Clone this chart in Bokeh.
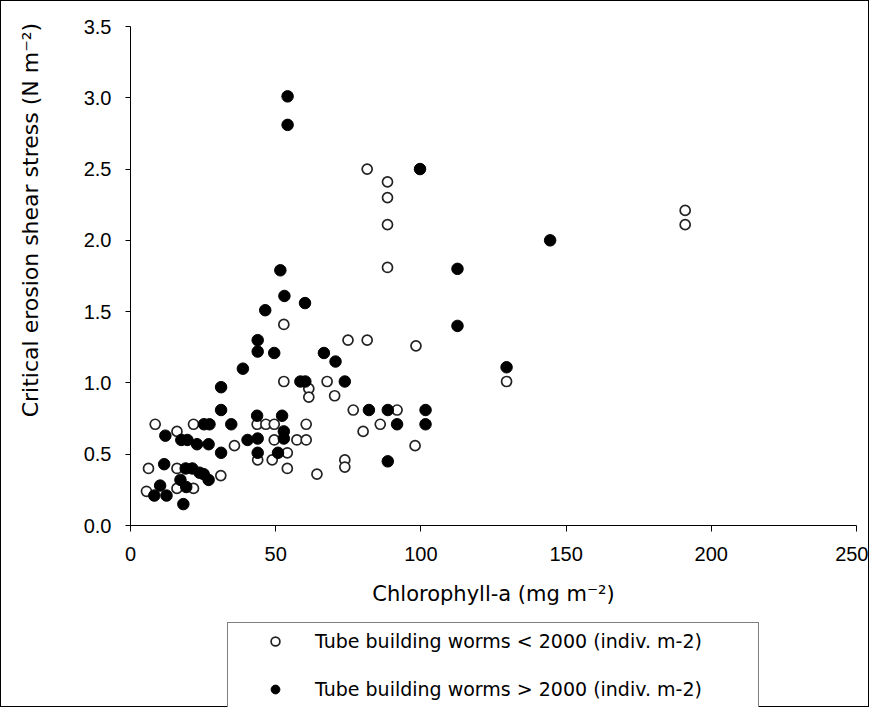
from bokeh.plotting import figure
from bokeh.layouts import column
from bokeh.models import Range1d, FixedTicker, Legend, LegendItem
from bokeh.embed import file_html
from bokeh.resources import INLINE

# Chlorophyll-a (mg m-2) vs critical erosion shear stress (N m-2)
low_x = [5.5, 6.2, 8.5, 16.0, 16.0, 16.0, 21.7, 21.7, 31.1, 35.8,
         43.6, 43.8, 46.6, 49.5, 49.5, 48.8, 52.8, 52.8, 54.0, 54.0,
         57.3, 60.5, 61.4, 61.4, 60.5, 64.2, 67.7, 70.3, 73.8, 73.8,
         74.9, 76.7, 80.1, 81.5, 81.5, 86.0, 88.5, 88.5, 88.5, 88.5,
         91.8, 98.0, 98.3, 129.5, 191.0, 191.0]
low_y = [0.24, 0.40, 0.71, 0.66, 0.40, 0.26, 0.71, 0.26, 0.35, 0.56,
         0.71, 0.46, 0.71, 0.71, 0.60, 0.46, 1.41, 1.01, 0.51, 0.40,
         0.60, 0.71, 0.96, 0.90, 0.60, 0.36, 1.01, 0.91, 0.46, 0.41,
         1.30, 0.81, 0.66, 1.30, 2.50, 0.71, 2.41, 2.30, 2.11, 1.81,
         0.81, 0.56, 1.26, 1.01, 2.21, 2.11]

high_x = [8.2, 10.2, 11.6, 12.0, 12.4, 17.2, 19.2, 18.2, 17.5, 19.6,
          19.0, 21.3, 23.8, 25.2, 26.9, 22.9, 26.9, 25.3, 27.2, 31.2,
          31.2, 31.2, 34.7, 38.7, 40.3, 43.8, 43.8, 43.6, 43.8, 43.8,
          46.4, 49.5, 50.8, 51.6, 52.2, 52.8, 52.8, 53.0, 54.1, 54.1,
          58.5, 60.2, 60.1, 66.6, 70.6, 73.8, 82.1, 88.6, 88.6, 91.8,
          99.7, 101.6, 101.6, 112.6, 112.6, 129.5, 144.5]
high_y = [0.21, 0.28, 0.43, 0.63, 0.21, 0.32, 0.27, 0.15, 0.60, 0.60,
          0.40, 0.40, 0.37, 0.36, 0.32, 0.57, 0.57, 0.71, 0.71, 0.97,
          0.81, 0.51, 0.71, 1.10, 0.60, 1.30, 1.22, 0.77, 0.61, 0.51,
          1.51, 1.21, 0.51, 1.79, 0.77, 0.66, 0.61, 1.61, 3.01, 2.81,
          1.01, 1.01, 1.56, 1.21, 1.15, 1.01, 0.81, 0.81, 0.45, 0.71,
          2.50, 0.81, 0.71, 1.80, 1.40, 1.11, 2.00]

x_ticks = [0, 50, 100, 150, 200, 250]
y_ticks = [0.0, 0.5, 1.0, 1.5, 2.0, 2.5, 3.0, 3.5]
y_tick_labels = ["0.0", "0.5", "1.0", "1.5", "2.0", "2.5", "3.0", "3.5"]

x_title = "Chlorophyll-a (mg m⁻²)"
y_title = "Critical erosion shear stress (N m⁻²)"
label_low = "Tube building worms < 2000 (indiv. m-2)"
label_high = "Tube building worms > 2000 (indiv. m-2)"

TICK_FONT = "Liberation Sans"
TITLE_FONT = "DejaVu Sans"

OPEN_STYLE = dict(marker="circle", fill_color="white", line_color="#222222", line_width=1.7)
FILLED_STYLE = dict(marker="circle", fill_color="black", line_color="black", line_width=1)

# ---- main scatter chart ----
p = figure(width=869, height=616, x_range=Range1d(0, 250), y_range=Range1d(0, 3.5),
           output_backend="svg", toolbar_location=None,
           min_border_left=129, min_border_right=14, min_border_top=25, min_border_bottom=92)
p.styles = {"border-left": "1px solid black", "border-right": "1px solid black",
            "border-top": "1px solid black"}
p.grid.visible = False
p.outline_line_color = None
p.background_fill_color = "white"
p.border_fill_color = "white"

p.scatter(low_x, low_y, size=10, **OPEN_STYLE)
p.scatter(high_x, high_y, size=11.5, **FILLED_STYLE)

for ax in (p.xaxis[0], p.yaxis[0]):
    ax.axis_line_color = "black"
    ax.axis_line_width = 1
    ax.major_tick_line_color = "black"
    ax.major_tick_in = 0
    ax.minor_tick_line_color = None
    ax.major_label_text_font = TICK_FONT
    ax.major_label_text_font_size = "20px"
    ax.major_label_text_color = "black"
    ax.axis_label_text_font = TITLE_FONT
    ax.axis_label_text_font_style = "normal"
    ax.axis_label_text_color = "black"

p.xaxis.axis_label_text_font_size = "21px"
p.yaxis.axis_label_text_font_size = "22px"
p.xaxis.major_tick_out = 6
p.yaxis.major_tick_out = 5
p.xaxis.ticker = FixedTicker(ticks=x_ticks)
p.yaxis.ticker = FixedTicker(ticks=y_ticks)
p.yaxis.major_label_overrides = {t: l for t, l in zip(y_ticks, y_tick_labels)}
p.xaxis.major_label_standoff = 15
p.yaxis.major_label_standoff = 14
p.xaxis.axis_label = x_title
p.xaxis.axis_label_standoff = 18
# the title sits above the frame centre in the original: pad its start with no-break spaces
p.yaxis.axis_label = "\u00a0" * 16 + y_title
p.yaxis.axis_label_standoff = 38

# ---- legend strip under the chart (same series, drawn out of view, only their keys show) ----
lg = figure(width=869, height=91, x_range=Range1d(1000, 1001), y_range=Range1d(1000, 1001),
            output_backend="svg", toolbar_location=None,
            x_axis_location=None, y_axis_location=None,
            min_border_left=129, min_border_right=14, min_border_top=6, min_border_bottom=0)
lg.styles = {"border-left": "1px solid black", "border-right": "1px solid black",
             "border-bottom": "1px solid black"}
lg.grid.visible = False
lg.outline_line_color = None
lg.background_fill_color = "white"
lg.border_fill_color = "white"
k_low = lg.scatter(low_x, low_y, size=8, **OPEN_STYLE)
k_high = lg.scatter(high_x, high_y, size=9, **FILLED_STYLE)

legend = Legend(items=[LegendItem(label=label_low, renderers=[k_low]),
                       LegendItem(label=label_high, renderers=[k_high])],
                location="top_center", orientation="vertical",
                padding=7, spacing=26, label_height=22, glyph_height=22,
                glyph_width=80, label_standoff=0, label_width=436, margin=0,
                border_line_color="black", border_line_width=1,
                background_fill_color="white", background_fill_alpha=1,
                label_text_font="DejaVu Sans", label_text_font_size="19px",
                label_text_color="black")
lg.add_layout(legend, "center")

layout = column(p, lg, spacing=0)
open("out.html", "w").write(file_html(layout, INLINE))
